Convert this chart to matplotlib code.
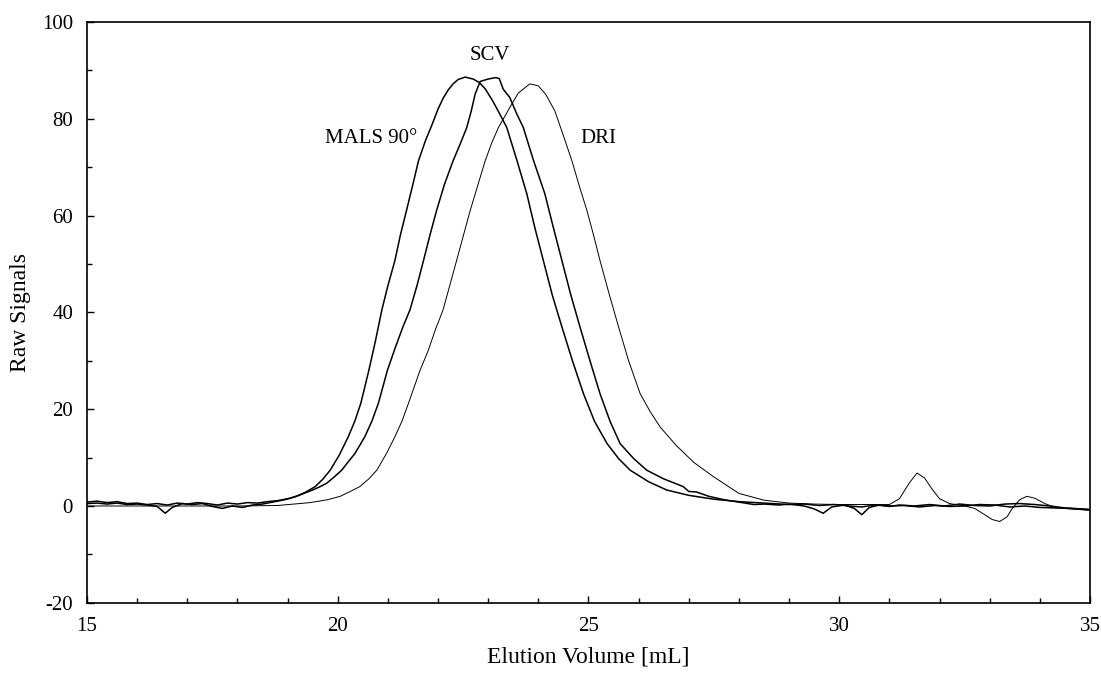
import matplotlib.pyplot as plt

# MALS 90 degree detector trace
mals_x = [15.0, 15.2, 15.4, 15.6, 15.8, 16.0, 16.2, 16.4, 16.6, 16.8, 17.0, 17.2, 17.4, 17.6, 17.8,
          18.0, 18.2, 18.4, 18.6, 18.8, 19.0, 19.18, 19.35, 19.55, 19.7, 19.85, 20.03, 20.21, 20.34,
          20.46, 20.62, 20.75, 20.88, 21.0, 21.14, 21.25, 21.37, 21.5, 21.61, 21.75, 21.87, 22.0,
          22.1, 22.2, 22.3, 22.4, 22.54, 22.7, 22.82, 22.94, 23.1, 23.23, 23.37, 23.57, 23.77,
          23.93, 24.1, 24.28, 24.47, 24.68, 24.9, 25.12, 25.37, 25.6, 25.83, 26.2, 26.56, 27.0,
          27.5, 28.0, 28.5, 29.0, 29.3, 29.6, 29.9, 30.2, 30.45, 30.7, 31.0, 31.3, 31.6, 31.9,
          32.2, 32.5, 32.8, 33.1, 33.4, 33.7, 34.0, 34.3, 34.6, 35.0]
mals_y = [0.8, 1.0, 0.7, 0.9, 0.5, 0.6, 0.3, 0.5, 0.2, 0.6, 0.4, 0.7, 0.5, 0.2, 0.6,
          0.4, 0.7, 0.6, 0.9, 1.1, 1.5, 2.0, 2.8, 4.0, 5.5, 7.4, 10.5, 14.3, 17.5,
          21.2, 28.0, 34.0, 40.5, 45.5, 50.7, 56.0, 61.0, 66.5, 71.3, 75.5, 78.5, 82.0,
          84.2, 85.9, 87.2, 88.1, 88.6, 88.2, 87.5, 86.2, 83.5, 81.0, 78.2, 71.5, 64.5,
          57.5, 50.7, 43.5, 37.0, 30.0, 23.2, 17.5, 12.9, 9.8, 7.4, 5.0, 3.3, 2.2,
          1.4, 0.9, 0.6, 0.3, 0.4, 0.1, 0.3, 0.0, -0.2, 0.2, 0.0, 0.1, -0.2, 0.1,
          -0.1, 0.0, 0.3, 0.2, -0.2, 0.0, -0.3, -0.4, -0.5, -0.8]

# SCV (viscometer) trace
scv_x = [15.0, 15.2, 15.4, 15.6, 15.8, 16.0, 16.2, 16.4, 16.56, 16.7, 16.9, 17.1, 17.3, 17.5,
         17.7, 17.9, 18.1, 18.3, 18.5, 18.7, 18.9, 19.06, 19.3, 19.5, 19.65, 19.78, 19.93, 20.08,
         20.2, 20.34, 20.54, 20.68, 20.81, 20.99, 21.14, 21.3, 21.44, 21.58, 21.71, 21.84, 21.97,
         22.13, 22.3, 22.45, 22.57, 22.66, 22.74, 22.84, 23.0, 23.15, 23.22, 23.3, 23.43, 23.57,
         23.7, 23.9, 24.13, 24.3, 24.47, 24.65, 24.83, 25.03, 25.23, 25.43, 25.63, 25.9, 26.16,
         26.5, 26.89, 27.0, 27.15, 27.4, 27.7, 28.0, 28.3, 28.5, 28.8, 29.0, 29.3, 29.5, 29.68,
         29.85, 30.1, 30.3, 30.45, 30.6, 30.8, 31.0, 31.2, 31.5, 31.8, 32.1, 32.4, 32.7, 33.0,
         33.3, 33.6, 33.9, 34.2, 34.5, 35.0]
scv_y = [0.5, 0.6, 0.4, 0.6, 0.3, 0.4, 0.2, -0.1, -1.5, -0.3, 0.5, 0.3, 0.5, -0.1,
         -0.5, 0.0, -0.3, 0.2, 0.4, 0.8, 1.2, 1.6, 2.5, 3.3, 4.0, 4.7, 6.0, 7.4,
         9.0, 10.8, 14.3, 17.5, 21.2, 28.0, 32.5, 37.0, 40.5, 45.5, 50.7, 56.0, 61.0,
         66.5, 71.3, 75.0, 78.1, 81.5, 85.1, 87.7, 88.2, 88.5, 88.3, 86.1, 84.4, 81.0,
         78.2, 71.5, 64.5, 57.5, 50.7, 43.5, 37.0, 30.0, 23.2, 17.5, 12.9, 9.8, 7.4,
         5.6, 4.0, 3.0, 2.9, 2.0, 1.3, 0.8, 0.3, 0.4, 0.2, 0.4, 0.0, -0.6, -1.5,
         -0.2, 0.2, -0.5, -1.8, -0.3, 0.2, -0.1, 0.2, 0.0, 0.3, 0.0, 0.4, 0.1, 0.0,
         0.4, 0.5, 0.3, 0.0, -0.4, -0.7]

# DRI (refractive index) trace
dri_x = [15.0, 16.0, 17.0, 18.0, 18.8, 19.45, 19.8, 20.05, 20.25, 20.44, 20.62, 20.78, 20.97,
         21.14, 21.28, 21.41, 21.64, 21.8, 21.95, 22.1, 22.37, 22.64, 22.8, 22.94, 23.07, 23.2,
         23.43, 23.6, 23.83, 24.0, 24.15, 24.33, 24.5, 24.67, 24.82, 24.97, 25.1, 25.23, 25.42,
         25.6, 25.8, 26.03, 26.23, 26.43, 26.75, 27.1, 27.5, 28.0, 28.5, 29.0, 29.5, 30.0, 30.5,
         31.0, 31.2, 31.4, 31.55, 31.7, 31.85, 32.0, 32.2, 32.5, 32.7, 32.9, 33.05, 33.2, 33.35,
         33.45, 33.6, 33.74, 33.9, 34.1, 34.3, 34.6, 35.0]
dri_y = [0.0, 0.0, 0.0, 0.0, 0.1, 0.7, 1.3, 2.0, 3.0, 4.0, 5.6, 7.4, 10.8,
         14.3, 17.5, 21.2, 28.0, 32.0, 36.5, 40.5, 50.7, 61.0, 66.5, 71.3, 75.0, 78.1,
         82.3, 85.3, 87.2, 86.8, 85.0, 81.6, 76.5, 71.3, 66.0, 61.0, 56.0, 50.7, 43.5,
         37.0, 30.0, 23.2, 19.5, 16.3, 12.5, 9.0, 6.0, 2.6, 1.2, 0.6, 0.4, 0.3, 0.3,
         0.3, 1.5, 4.8, 6.8, 5.8, 3.5, 1.5, 0.5, 0.0, -0.5, -1.8, -2.8, -3.2, -2.2,
         -0.5, 1.3, 2.0, 1.6, 0.5, -0.3, -0.6, -0.9]

plt.rcParams['font.family'] = ['Liberation Serif', 'DejaVu Serif']
plt.rcParams['axes.unicode_minus'] = False

fig = plt.figure(figsize=(11.01, 6.85), dpi=100)
ax = fig.add_axes([0.079, 0.120, 0.911, 0.848])

ax.plot(mals_x, mals_y, color='black', lw=1.1)
ax.plot(scv_x, scv_y, color='black', lw=1.1)
ax.plot(dri_x, dri_y, color='black', lw=0.7)

ax.text(20.66, 76, 'MALS 90°', fontsize=15, ha='center', va='center')
ax.text(23.04, 93, 'SCV', fontsize=15, ha='center', va='center')
ax.text(25.19, 76, 'DRI', fontsize=15, ha='center', va='center')

ax.set_xlim(15, 35)
ax.set_ylim(-20, 100)
ax.set_xticks([15, 20, 25, 30, 35])
ax.set_xticks(range(15, 36), minor=True)
ax.set_yticks([-20, 0, 20, 40, 60, 80, 100])
ax.set_yticks(range(-20, 101, 10), minor=True)
ax.tick_params(which='both', direction='in', labelsize=15, width=1)
ax.tick_params(which='major', length=5, pad=10)
ax.tick_params(which='minor', length=3.5)
for s in ax.spines.values():
    s.set_linewidth(1.2)

ax.set_xlabel('Elution Volume [mL]', fontsize=17, labelpad=8)
ax.set_ylabel('Raw Signals', fontsize=17, labelpad=8)

fig.savefig('out.png', dpi=100)
